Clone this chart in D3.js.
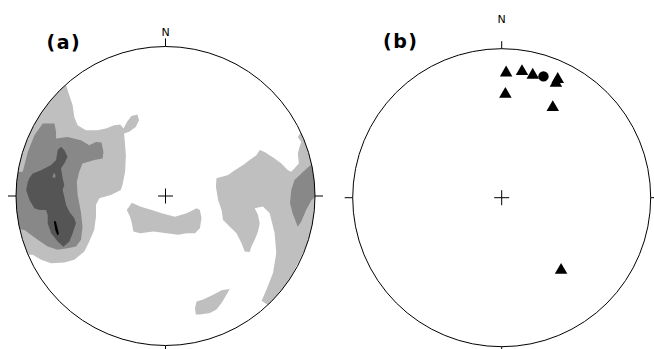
<!DOCTYPE html>
<html><head><meta charset="utf-8">
<script src="https://cdn.jsdelivr.net/npm/d3@7"></script>
<style>body{margin:0;background:#fff}svg{display:block}</style>
</head><body>
<svg id="c" width="654" height="349"></svg>
<script>
// ---- Panel (a): density contours, net units (percent of primitive radius; x = east, y = north)
const lightWest = [[-73.7,80.7],[-66.5,74],[-64.3,67.3],[-62.1,60.7],[-61,52.9],[-58.8,47.3],[-53.2,44],[-45.5,44],[-39.9,45.1],[-34.3,47.3],[-30.3,47.8],[-28.1,45.1],[-25.5,50],[-22.8,53.5],[-18.8,54.5],[-17.7,50.7],[-19.9,46.2],[-24.3,42.9],[-27.7,41.8],[-27.2,36.2],[-26.5,27.3],[-27,16.2],[-28.1,10.7],[-28.8,7.3],[-29.9,4],[-36.5,0.7],[-44.3,-1.5],[-46.5,-6],[-46.5,-13.8],[-47.7,-22.7],[-51,-30.5],[-54.3,-37.1],[-61,-42.7],[-67.7,-44.5],[-76.5,-44.9],[-83.2,-42.7],[-88.8,-39.3],[-97,-39.3],[-107,4],[-97,64]];
const lightEast = [[92.3,45.3],[88.5,39.5],[90.8,36.2],[89.7,32.9],[88.5,28.5],[89.2,21.8],[86.3,18.5],[84.1,16.2],[81.9,17.3],[77.5,21.8],[73,25.1],[66.3,29.5],[63,30.7],[60.8,27.3],[56.3,24],[51.9,20.7],[46.3,17.3],[41.9,14],[34.1,11.8],[33.7,6.2],[35.2,-2.7],[37.5,-9.3],[38.5,-16],[43,-20.5],[47.5,-24.9],[50.8,-31.5],[53,-37.1],[56.3,-37.5],[57.5,-33.8],[59.7,-29.3],[61.9,-23.8],[63,-18.2],[61.9,-12.7],[59.7,-8.2],[65.2,-7.1],[69.7,-11.5],[73,-24.9],[74.1,-38.2],[71.9,-51.5],[67.5,-62.7],[64.3,-70],[73,-76],[109.7,-2.7],[103,50.7]];
const lightCenter = [[-25.9,-9.3],[-22.5,-4.5],[-17,-7.1],[-9.2,-9.3],[-2.5,-11.5],[6.3,-13.8],[14.1,-11.5],[20.8,-8.2],[23,-9.3],[24.1,-14.9],[23,-21.5],[19.7,-24.9],[14.1,-24.9],[8.5,-26],[0.8,-24.9],[-8.1,-23.8],[-17,-24.9],[-21.5,-23.8],[-22.5,-18.2],[-23.7,-13.8]];
const lightSouth = [[20.8,-70.5],[25.2,-69.3],[31.9,-66],[37.5,-63.1],[43,-62.2],[40.8,-66],[37.5,-71.5],[34.1,-76],[29.7,-78.2],[23,-79.3],[20.3,-79.3],[19.7,-74.9]];
const mediumWest = [[-82.1,48.5],[-74.3,48.5],[-73.2,42.9],[-73.2,38.5],[-65.5,39.5],[-56.5,37.3],[-51,34],[-46.5,36.2],[-42.8,35.8],[-41.5,29.5],[-42.1,25.1],[-47.7,24],[-55.5,21.8],[-57.7,16.2],[-59.3,9.3],[-58.8,0.7],[-57.7,-4.9],[-56.5,-11.3],[-55.5,-20.5],[-56.5,-29.3],[-59.9,-33.8],[-65.5,-34.9],[-72.1,-36],[-78.8,-33.8],[-85.5,-29.3],[-94.3,-22.7],[-103.7,-21.3],[-107,4],[-103.7,16],[-95.5,16.2],[-92.1,29.5],[-87.7,40.7]];
const mediumEast = [[97.7,21.3],[91.9,16],[86.3,10.7],[84.1,4],[83.3,-4.9],[85,-11.5],[87,-16.7],[88.5,-20.5],[90.8,-17.1],[94.1,-9.3],[97.7,-2.7],[106.3,4],[103,24]];
const darkWest = [[-69.9,32.9],[-67.7,30.7],[-65.5,26.2],[-67.7,21.8],[-69.9,18.5],[-68.8,11.8],[-67.7,7.3],[-68.8,4],[-67.7,-0.5],[-66.5,-6],[-64.3,-10.5],[-61,-14.9],[-59.9,-18.2],[-62.1,-24.9],[-64.3,-30.5],[-68.3,-34],[-72.1,-30.5],[-76.5,-24.9],[-78.8,-18.2],[-78.8,-12.7],[-79.9,-9.3],[-84.3,-9.3],[-87.7,-8.2],[-91,-2.7],[-93.2,4],[-92.1,9.3],[-91,12],[-88.8,15.1],[-83.2,17.3],[-76.5,20.7],[-73.2,24],[-72.1,30.7]];
const mediumHole = [[-75.7,12.7],[-74.7,15.3],[-73.7,14.7],[-73.7,12]];
const peakWest = [[-74.7,-16.7],[-73.3,-17],[-71.3,-25.3],[-72.3,-26.3],[-73.7,-22.7]];

const contourPolys = [lightWest, lightEast, lightCenter, lightSouth, mediumWest, mediumEast, darkWest, mediumHole, peakWest];
const contourLevel = [1, 1, 1, 1, 2, 2, 3, 2, 4];
const levelFill = ["#ffffff", "#bfbfbf", "#888888", "#555555", "#000000"];

// ---- Panel (b): lineations (trend, plunge in degrees), lower hemisphere
const bTrend = [2, 9, 14, 25, 25, 2, 29, 140];
const bPlunge = [16, 14, 15, 12, 15, 30, 30, 38];
const meanTrend = [19];
const meanPlunge = [15];

const panelLabels = ["(a)", "(b)"];
const northLabel = "N";

const svg = d3.select("#c");
const panels = [
  {cx: 165.5, cy: 196, R: 149.5, labX: 46.5, labY: 49, nY: 36, tickTop: 8},
  {cx: 501.7, cy: 197.7, R: 149, labX: 383, labY: 48, nY: 23, tickTop: 7.5}
];

function setup(p, i) {
  const g = svg.append("g");
  const x = d3.scaleLinear().domain([-100, 100]).range([p.cx - p.R, p.cx + p.R]);
  const y = d3.scaleLinear().domain([-100, 100]).range([p.cy + p.R, p.cy - p.R]);
  const clipId = "clip" + i;
  svg.append("clipPath").attr("id", clipId).append("circle")
    .attr("cx", x(0)).attr("cy", y(0)).attr("r", x(100) - x(0));
  return {g, x, y, clipId};
}

function frame(p, s, i) {
  const {g, x, y} = s;
  const r = x(100) - x(0);
  g.append("circle").attr("cx", x(0)).attr("cy", y(0)).attr("r", r)
    .attr("fill", "none").attr("stroke", "#000").attr("stroke-width", 1);
  const t = 8;
  const ticks = [
    [x(0), y(100), x(0), y(100) - p.tickTop],
    [x(0), y(-100), x(0), y(-100) + t],
    [x(-100), y(0), x(-100) - t, y(0)],
    [x(100), y(0), x(100) + t, y(0)]
  ];
  g.selectAll("line.tk").data(ticks).join("line").attr("class", "tk")
    .attr("x1", d => d[0]).attr("y1", d => d[1]).attr("x2", d => d[2]).attr("y2", d => d[3])
    .attr("stroke", "#000").attr("stroke-width", 1);
  const c = 7.5;
  g.append("line").attr("x1", x(0) - c).attr("x2", x(0) + c).attr("y1", y(0)).attr("y2", y(0)).attr("stroke", "#000");
  g.append("line").attr("x1", x(0)).attr("x2", x(0)).attr("y1", y(0) - c).attr("y2", y(0) + c).attr("stroke", "#000");
  g.append("text").attr("x", x(0)).attr("y", p.nY).attr("text-anchor", "middle")
    .attr("font-family", "DejaVu Sans").attr("font-size", 11).attr("fill", "#000").text(northLabel);
  g.append("text").attr("x", p.labX).attr("y", p.labY)
    .attr("font-family", "DejaVu Sans").attr("font-weight", "bold").attr("font-size", 19)
    .attr("letter-spacing", 1.5).attr("fill", "#000").text(panelLabels[i]);
}

// Panel (a)
const sa = setup(panels[0], 0);
const line = d3.line().x(d => sa.x(d[0])).y(d => sa.y(d[1])).curve(d3.curveLinearClosed);
sa.g.append("g").attr("clip-path", `url(#${sa.clipId})`)
  .selectAll("path").data(contourPolys).join("path")
  .attr("d", d => line(d))
  .attr("fill", (d, k) => levelFill[contourLevel[k]])
  .attr("stroke", "none");
frame(panels[0], sa, 0);

// Panel (b): lower-hemisphere equal-area (Schmidt) projection
const sb = setup(panels[1], 1);
function project(trend, plunge) {
  const rr = 100 * Math.SQRT2 * Math.sin((90 - plunge) / 2 * Math.PI / 180);
  const a = trend * Math.PI / 180;
  return [rr * Math.sin(a), rr * Math.cos(a)];
}
frame(panels[1], sb, 1);
const tri = (s) => {
  const h = s * Math.sqrt(3) / 2;
  return `M0,${-h / 2}L${s / 2},${h / 2}L${-s / 2},${h / 2}Z`;
};
const pts = bTrend.map((t, k) => project(t, bPlunge[k]));
sb.g.selectAll("path.tri").data(pts).join("path").attr("class", "tri")
  .attr("transform", d => `translate(${sb.x(d[0])},${sb.y(d[1])})`)
  .attr("d", tri(12.5)).attr("fill", "#000");
const mpts = meanTrend.map((t, k) => project(t, meanPlunge[k]));
sb.g.selectAll("circle.mean").data(mpts).join("circle").attr("class", "mean")
  .attr("cx", d => sb.x(d[0])).attr("cy", d => sb.y(d[1])).attr("r", 5.2).attr("fill", "#000");
</script>
</body></html>
